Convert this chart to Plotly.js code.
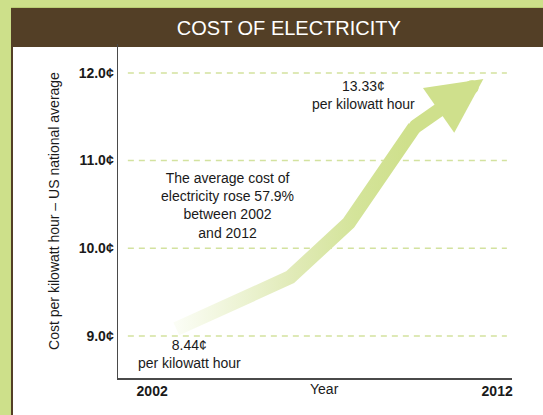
<!DOCTYPE html>
<html>
<head>
<meta charset="utf-8">
<script src="https://cdn.plot.ly/plotly-3.0.1.min.js"></script>
<style>
html,body{margin:0;padding:0;background:#cde08a;}
#chart{width:543px;height:415px;}
</style>
</head>
<body>
<div id="chart"></div>
<script>
// ---- data ----
const years = [2002.7, 2006.0, 2007.7, 2009.6];
const costs = [9.08, 9.67, 10.29, 11.38];
const arrowTip = {year: 2011.6, cost: 11.93};
const yTickVals = [9, 10, 11, 12];
const yTickText = ['9.0¢', '10.0¢', '11.0¢', '12.0¢'];
const xTickVals = [2002, 2012];
const xTickText = ['2002', '2012'];
const startLabel = '8.44¢<br>per kilowatt hour';
const endLabel = '13.33¢<br>per kilowatt hour';
const noteLabel = 'The average cost of<br>electricity rose 57.9%<br>between 2002<br>and 2012';

const FONT = 'Liberation Sans, Arial, Helvetica, sans-serif';
const GREEN = '#cfe08c';
const BROWN = '#533f26';

const trace = {
  type: 'scatter', mode: 'lines',
  x: years, y: costs,
  line: {color: GREEN, width: 14},
  hoverinfo: 'skip', showlegend: false
};

const gridShapes = yTickVals.map(v => ({
  type: 'line', xref: 'paper', yref: 'y', x0: 0.025, x1: 0.987, y0: v, y1: v,
  line: {color: '#d3e29f', width: 1.5, dash: '6px,5px'}, layer: 'below'
}));

const layout = {
  width: 543, height: 415,
  margin: {l: 118, r: 31, t: 44, b: 37},
  paper_bgcolor: '#cde08a',
  plot_bgcolor: 'rgba(0,0,0,0)',
  font: {family: FONT, size: 14, color: '#1a1a1a'},
  title: {
    text: 'COST OF ELECTRICITY',
    font: {family: FONT, size: 20, color: '#ffffff'},
    x: 0.532, xanchor: 'center', xref: 'container',
    y: 0.9325, yanchor: 'middle', yref: 'container'
  },
  xaxis: {
    range: [2001.01, 2012.43],
    tickvals: xTickVals, ticktext: xTickText,
    tickfont: {family: FONT, size: 14, weight: 'bold', color: '#1a1a1a'},
    showgrid: false, zeroline: false,
    showline: true, linecolor: '#4a4a4a', linewidth: 1.5,
    ticks: '', fixedrange: true
  },
  yaxis: {
    range: [8.52, 12.33],
    tickvals: yTickVals, ticktext: yTickText,
    tickfont: {family: FONT, size: 14, weight: 'bold', color: '#1a1a1a'},
    showgrid: false, zeroline: false,
    showline: true, linecolor: '#4a4a4a', linewidth: 1.5,
    ticks: '',
    title: {text: 'Cost per kilowatt hour – US national average',
            font: {family: FONT, size: 14, color: '#1a1a1a'}, standoff: 16},
    fixedrange: true
  },
  shapes: [
    {type: 'rect', xref: 'paper', yref: 'paper', x0: -0.2716, x1: 1.2, y0: -0.3, y1: 1.1078,
     fillcolor: BROWN, line: {width: 0}, layer: 'below'},
    {type: 'rect', xref: 'paper', yref: 'paper', x0: -0.2665, x1: 1.2, y0: -0.3, y1: 0.991,
     fillcolor: '#ffffff', line: {width: 0}, layer: 'below'},
    {type: 'line', xref: 'paper', yref: 'paper', x0: -0.2716, x1: 1.2, y0: 1.1093, y1: 1.1093,
     line: {color: '#b9cc74', width: 1}, layer: 'below'}
  ].concat(gridShapes),
  annotations: [
    {x: arrowTip.year, y: arrowTip.cost, xref: 'x', yref: 'y',
     ax: years[years.length - 1], ay: costs[costs.length - 1], axref: 'x', ayref: 'y',
     text: '', showarrow: true, arrowhead: 2, arrowsize: 0.78, arrowwidth: 14, arrowcolor: GREEN},
    {x: 2008.12, y: 11.75, xref: 'x', yref: 'y', text: endLabel, showarrow: false,
     xanchor: 'center', yanchor: 'middle', align: 'center', font: {size: 14}},
    {x: 2004.17, y: 10.49, xref: 'x', yref: 'y', text: noteLabel, showarrow: false,
     xanchor: 'center', yanchor: 'middle', align: 'center', font: {size: 14}},
    {x: 2003.07, y: 8.795, xref: 'x', yref: 'y', text: startLabel, showarrow: false,
     xanchor: 'center', yanchor: 'middle', align: 'center', font: {size: 14}},
    {x: 2007, y: -0.033, xref: 'x', yref: 'paper', text: 'Year', showarrow: false,
     xanchor: 'center', yanchor: 'middle', font: {size: 14}}
  ]
};

Plotly.newPlot('chart', [trace], layout, {staticPlot: true, displayModeBar: false}).then(gd => {
  const svg = gd.querySelector('svg.main-svg');
  const ns = 'http://www.w3.org/2000/svg';
  const defs = document.createElementNS(ns, 'defs');
  const grad = document.createElementNS(ns, 'linearGradient');
  grad.setAttribute('id', 'lineFade');
  grad.setAttribute('x1', '0'); grad.setAttribute('y1', '0');
  grad.setAttribute('x2', '1'); grad.setAttribute('y2', '0');
  [['0', '#fbfdf5'], ['0.3', '#ebf2d0'], ['0.5', '#e0eab6'], ['0.75', '#d4e49a'], ['0.97', GREEN], ['1', GREEN]].forEach(s => {
    const st = document.createElementNS(ns, 'stop');
    st.setAttribute('offset', s[0]); st.setAttribute('stop-color', s[1]);
    grad.appendChild(st);
  });
  defs.appendChild(grad);
  svg.insertBefore(defs, svg.firstChild);
  gd.querySelectorAll('.scatterlayer .trace path.js-line').forEach(p => {
    p.style.stroke = 'url(#lineFade)';
    p.style.strokeLinejoin = 'miter';
  });
  gd.querySelectorAll('.annotation-arrow-g path').forEach(p => {
    p.style.strokeLinecap = 'round';
  });
});
</script>
</body>
</html>
